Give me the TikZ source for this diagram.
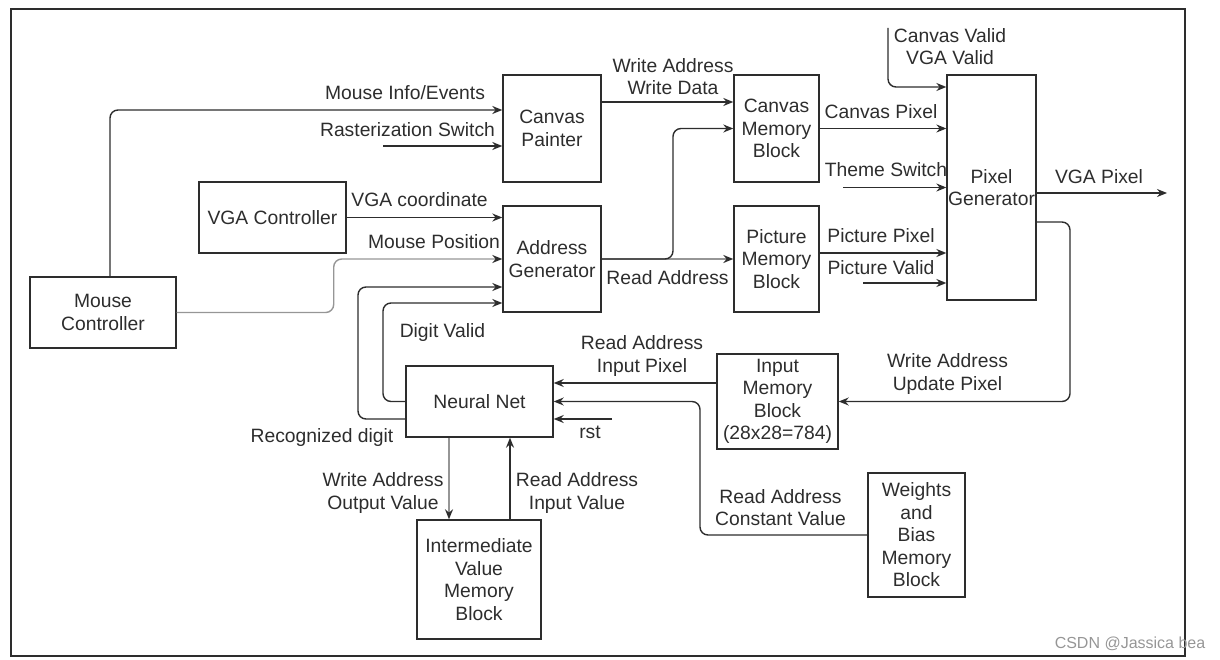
\documentclass[tikz,border=0pt]{standalone}
\usepackage{fontspec}
\setmainfont{Liberation Sans}
\usetikzlibrary{arrows.meta, positioning}
\definecolor{ink}{RGB}{45,45,45}
\definecolor{pale}{RGB}{150,150,150}

\begin{document}
\begin{tikzpicture}[x=1pt,y=-1pt,
  box/.style={draw=ink,line width=1.4pt,inner sep=1pt,align=center,text=ink,
              font=\fontsize{19.3pt}{22.5pt}\selectfont},
  lbl/.style={inner sep=0pt,align=center,text=ink,
              font=\fontsize{19.3pt}{22.5pt}\selectfont},
  arr/.style={-{Stealth[length=10pt,width=8pt]},ink,line width=1.4pt,rounded corners=8pt},
  arrg/.style={-{Stealth[length=10pt,width=8pt,color=ink]},pale,line width=1.4pt,rounded corners=8pt}
]
\useasboundingbox (0,0) rectangle (1220,660);
\draw[ink,line width=2.6pt] (11,9) rectangle (1185,656);

% blocks
\node[box,minimum width=146pt,minimum height=71pt]  (mousectl) at (103,312.5) {Mouse\\Controller};
\node[box,minimum width=147pt,minimum height=71pt]  (vgactl)   at (272.5,217.5) {VGA Controller};
\node[box,minimum width=98pt,minimum height=107pt]  (cpaint)   at (552,128.5) {Canvas\\Painter};
\node[box,minimum width=98pt,minimum height=106pt]  (addrgen)  at (552,259) {Address\\Generator};
\node[box,minimum width=85pt,minimum height=107pt]  (cmem)     at (776.5,128.5) {Canvas\\Memory\\Block};
\node[box,minimum width=85pt,minimum height=106pt]  (pmem)     at (776.5,259) {Picture\\Memory\\Block};
\node[box,minimum width=85pt,minimum height=225pt]  (pixgen)   at (991.5,187.5) {Pixel\\Generator};
\node[box,minimum width=147pt,minimum height=71pt]  (nnet)     at (479.5,401.5) {Neural Net};
\node[box,minimum width=124pt,minimum height=119pt] (imem)     at (479,579.5) {Intermediate\\Value\\Memory\\Block};
\node[box,minimum width=121pt,minimum height=95pt]  (inmem)    at (777.5,401.5) {Input\\Memory\\Block\\(28x28=784)};
\node[box,minimum width=97pt,minimum height=124pt]  (wmem)     at (916.5,535) {Weights\\and\\Bias\\Memory\\Block};

% free ends
\coordinate (rastin)  at (383,146);
\coordinate (themein) at (843,187.5);
\coordinate (pvalin)  at (863,283);
\coordinate (validin) at (888,28);
\coordinate (vgaout)  at (1167,193);
\coordinate (rstin)   at (612,419);

% connectors
\draw[arr] ([xshift=7pt]mousectl.north) |- (cpaint.west |- 0,110);
\draw[arr] (rastin) -- (cpaint.west |- rastin);
\draw[arr] (vgactl.east) -- (addrgen.west |- vgactl.east);
\draw[arrg] (mousectl.east) -- ++(157,0) |- (addrgen.west);
\draw[arr] (nnet.west |- 0,419) -| (358,287) -- (addrgen.west |- 0,287);
\draw[arr] (nnet.west) -| (383,303) -- (addrgen.west |- 0,303);
\draw[arr] (cpaint.east |- 0,102) -- (cmem.west |- 0,102);
\draw[arrg] (addrgen.east) -- (pmem.west);
\draw[arr] (addrgen.east) -| (673,128.5) -- (cmem.west);
\draw[arr] (cmem.east) -- (pixgen.west |- cmem.east);
\draw[arr] (themein) -- (pixgen.west);
\draw[arr] (pmem.east |- 0,253) -- (pixgen.west |- 0,253);
\draw[arr] (pvalin) -- (pixgen.west |- pvalin);
\draw[arr] (validin) |- (pixgen.west |- 0,87);
\draw[arr] (pixgen.east |- vgaout) -- (vgaout);
\draw[arr] (pixgen.east |- 0,222) -| (1070,401.5) -- (inmem.east);
\draw[arr] (inmem.west |- 0,383) -- (nnet.east |- 0,383);
\draw[arr] (wmem.west) -| (700,401.5) -- (nnet.east);
\draw[arr] (rstin) -- (nnet.east |- rstin);
\draw[arrg] (nnet.south -| 449,0) -- (imem.north -| 449,0);
\draw[arr] (imem.north -| 510,0) -- (nnet.south -| 510,0);

% labels
\node[lbl] (lmouse)   at (405,93)    {Mouse Info/Events};
\node[lbl] (lraster)  at (407.5,130) {Rasterization Switch};
\node[lbl] (lwrite)   at (673,76.5)  {Write Address\\Write Data};
\node[lbl] (lvgac)    at (419.5,200) {VGA coordinate};
\node[lbl] (lmpos)    at (434,242)   {Mouse Position};
\node[lbl] (lread)    at (667.5,278) {Read Address};
\node[lbl] (lcpix)    at (881,112)   {Canvas Pixel};
\node[lbl] (ltheme)   at (886,170)   {Theme Switch};
\node[lbl] (lppix)    at (881,236)   {Picture Pixel};
\node[lbl] (lpval)    at (881,268)   {Picture Valid};
\node[lbl] (lvalid)   at (950,46.5)  {Canvas Valid\\VGA Valid};
\node[lbl] (lvgapix)  at (1099,177)  {VGA Pixel};
\node[lbl] (ldigit)   at (442.5,333) {Digit Valid};
\node[lbl] (lrecog)   at (322,438)   {Recognized digit};
\node[lbl] (linpix)   at (642,356)   {Read Address\\Input Pixel};
\node[lbl] (lrst)     at (590,432)   {rst};
\node[lbl] (loutval)  at (383,493)   {Write Address\\Output Value};
\node[lbl] (linval)   at (577,493)   {Read Address\\Input Value};
\node[lbl] (lupdate)  at (947.5,374) {Write Address\\Update Pixel};
\node[lbl] (lconst)   at (780.5,507.5) {Read Address\\Constant Value};
\node[lbl,text=pale,font=\fontsize{16pt}{18pt}\selectfont] (wmark) at (1130,644) {CSDN @Jassica bea};
\end{tikzpicture}
\end{document}
